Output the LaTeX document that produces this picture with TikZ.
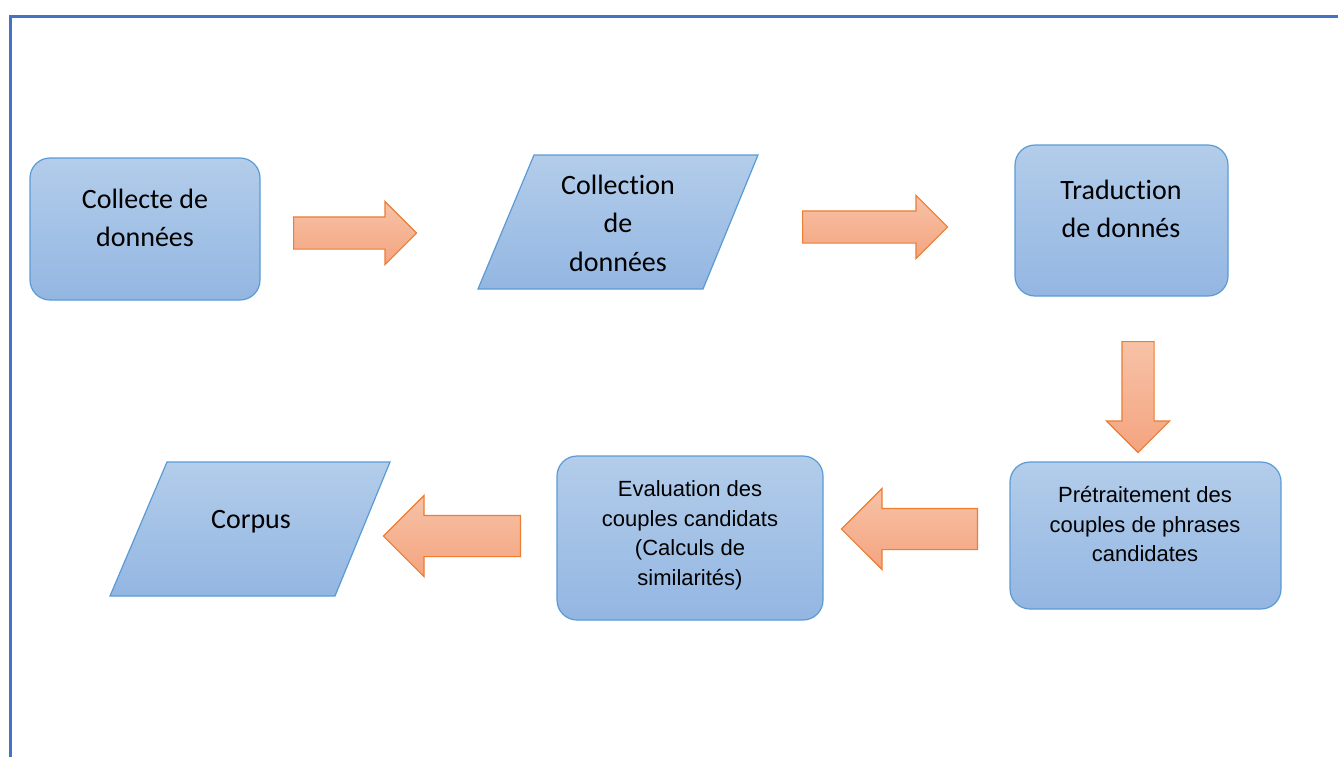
\documentclass[tikz,border=0pt]{standalone}
\usepackage{fontspec}
\setmainfont{Carlito}[Ligatures=NoCommon]
\newfontfamily\arialfont{Liberation Sans}
\usetikzlibrary{shapes.arrows}

\definecolor{boxtop}{HTML}{B3CDEA}
\definecolor{boxbot}{HTML}{93B6E2}
\definecolor{boxline}{HTML}{5B9BD5}
\definecolor{arrtop}{HTML}{F7C2A7}
\definecolor{arrbot}{HTML}{F4A47F}
\definecolor{arrline}{HTML}{ED7D31}
\definecolor{frameline}{HTML}{4472C4}

\begin{document}
\begin{tikzpicture}[x=1pt,y=-1pt,
  box/.style={rectangle,rounded corners=20pt,draw=boxline,line width=1.2pt,
    top color=boxtop,bottom color=boxbot,inner sep=0pt},
  data/.style={draw=boxline,line width=1.2pt,top color=boxtop,bottom color=boxbot},
  flow/.style={single arrow,single arrow head indent=0pt,draw=arrline,anchor=tail,
    line width=1.2pt,top color=arrtop,bottom color=arrbot},
  big/.style={font=\fontsize{28}{38.5}\selectfont,align=center},
  small/.style={font=\arialfont\fontsize{22}{29.5}\selectfont,align=center}]

   \useasboundingbox (0,0) rectangle (1338,756);
   \draw[frameline,line width=3pt] (10.5,770) -- (10.5,16.5) -- (1350,16.5);

   \node[box,minimum width=230,minimum height=142] (collecte) at (145,229) {};
   \node[big] (collecte-txt) at (145,218) {Collecte de\\données};

   \path[data] (534,155) -- (758,155) -- (703,289) -- (478,289) -- cycle;
   \node[big] (collection) at (618,223) {Collection\\de\\données};

   \node[box,minimum width=213,minimum height=151] (traduction) at (1121.5,220.5) {};
   \node[big] (traduction-txt) at (1121,209) {Traduction\\de donnés};

   \node[box,minimum width=271,minimum height=147] (pretraitement) at (1145.5,535.5) {};
   \node[small] (pretraitement-txt) at (1145,524) {Prétraitement des\\couples de phrases\\candidates};

   \node[box,minimum width=266,minimum height=164] (evaluation) at (690,538) {};
   \node[small] (evaluation-txt) at (690,535.5) {Evaluation des\\couples candidats\\(Calculs de\\similarités)};

   \path[data] (167,462) -- (390,462) -- (335,596) -- (110,596) -- cycle;
   \node[big] (corpus) at (251,522) {Corpus};

   \node[flow,inner sep=15.5pt,minimum height=123,single arrow head extend=15.5] (fleche1) at (293,233) {};
   \node[flow,inner sep=15.5pt,minimum height=145,single arrow head extend=15.5] (fleche2) at (802,227) {};
   \node[flow,inner sep=15.5pt,minimum height=111,single arrow head extend=15.5,
         shape border rotate=270] (fleche3) at (1138,341) {};
   \node[flow,inner sep=20pt,minimum height=136,single arrow head extend=20,
         shape border rotate=180] (fleche4) at (978,529) {};
   \node[flow,inner sep=20pt,minimum height=137,single arrow head extend=20,
         shape border rotate=180] (fleche5) at (521,536) {};
\end{tikzpicture}
\end{document}
